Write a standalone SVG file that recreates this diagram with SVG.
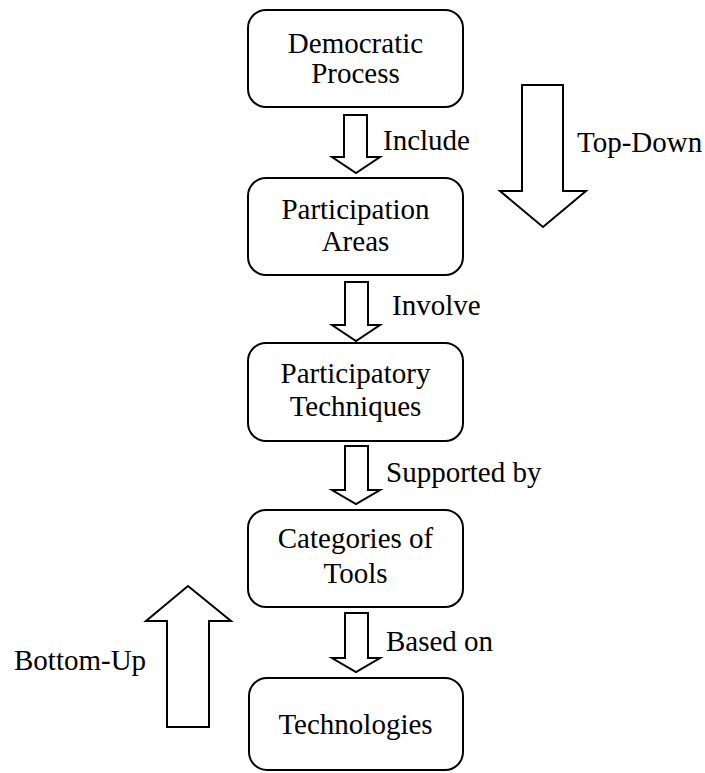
<svg xmlns="http://www.w3.org/2000/svg" width="705" height="773" viewBox="0 0 705 773">
<style>
.box{fill:#fff;stroke:#000;stroke-width:2}
.arr{fill:#fff;stroke:#000;stroke-width:2;stroke-linejoin:miter}
text{font-family:"Liberation Serif","Times New Roman",serif;font-size:29px;fill:#000}
.c{text-anchor:middle}
</style>
<rect width="705" height="773" fill="#fff"/>
<g id="n1"><rect class="box" x="248" y="10" width="215" height="97" rx="18"/><text class="c" x="355.5" y="53">Democratic</text><text class="c" x="355.5" y="83">Process</text></g>
<g id="n2"><rect class="box" x="248" y="178" width="215" height="97" rx="18"/><text class="c" x="355.5" y="219">Participation</text><text class="c" x="355.5" y="251">Areas</text></g>
<g id="n3"><rect class="box" x="248" y="343" width="215" height="98" rx="18"/><text class="c" x="355.5" y="383">Participatory</text><text class="c" x="355.5" y="416">Techniques</text></g>
<g id="n4"><rect class="box" x="248" y="510" width="215" height="97" rx="18"/><text class="c" x="355.5" y="548">Categories of</text><text class="c" x="355.5" y="583">Tools</text></g>
<g id="n5"><rect class="box" x="249" y="678" width="214" height="92" rx="18"/><text class="c" x="355.5" y="734">Technologies</text></g>
<g id="connectors">
<polygon class="arr" points="344,115 367,115 367,157 380,157 356,173 332,157 344,157"/>
<text x="383" y="150">Include</text>
<polygon class="arr" points="345,282 368,282 368,325 380,325 356,341 332,325 345,325"/>
<text x="392" y="315">Involve</text>
<polygon class="arr" points="345,446 368,446 368,490 380,490 356,504 332,490 345,490"/>
<text x="386" y="482">Supported by</text>
<polygon class="arr" points="345,613 368,613 368,658 380,658 356,672 332,658 345,658"/>
<text x="386" y="651">Based on</text>
<polygon class="arr" points="522,85 563,85 563,191 586,191 543,227 500,191 522,191"/>
<text x="577" y="152">Top-Down</text>
<polygon class="arr" points="167,727 209,727 209,621 231,621 188,586 146,621 167,621"/>
<text x="14" y="670">Bottom-Up</text>
</g>
</svg>
